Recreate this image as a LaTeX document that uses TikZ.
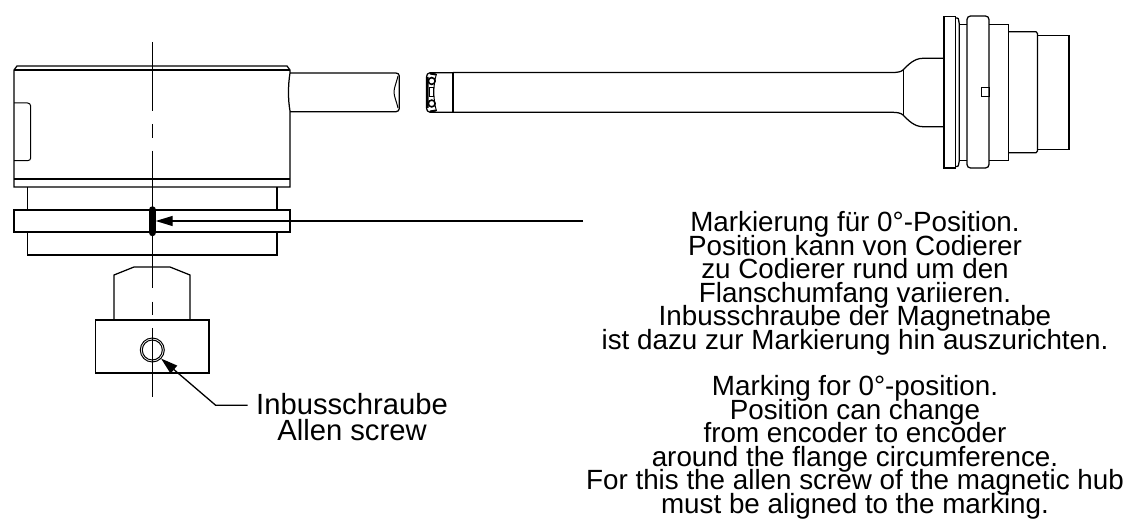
\documentclass[tikz,border=0pt]{standalone}
\usepackage{fontspec}
\setmainfont{Liberation Sans}
\usetikzlibrary{arrows.meta}
\normallineskiplimit=-100pt\relax
\lineskiplimit=-100pt\relax
\tikzset{
  part/.style={line width=1.25pt,draw=black,line join=miter},
  thinpart/.style={line width=1pt,draw=black},
  axis/.style={line width=1.4pt,draw=black},
  mark0/.style={line width=7.5pt,line cap=round,draw=black},
  lead/.style={line width=1.3pt,draw=black,-{Triangle[length=17pt,width=10pt]}},
  caption/.style={inner sep=0pt,outer sep=0pt,align=center,anchor=north,font=\fontsize{27.8}{23.5}\selectfont},
  callout/.style={inner sep=0pt,outer sep=0pt,align=center,anchor=north,font=\fontsize{29.2}{26}\selectfont}
}
\begin{document}
\begin{tikzpicture}[x=1pt,y=-1pt]
\useasboundingbox (0,0) rectangle (1128,529);
% encoder body
\draw[part] (14,70) -- (17,66) -- (287,66) -- (290,70) -- (290,73) .. controls (288,85) and (288,100) .. (290,111) -- (290,187) -- (14,187) -- cycle;
\draw[part] (14,70) -- (290,70);
\draw[part] (14,179) -- (290,179);
\draw[thinpart] (14,103) -- (27.5,103) to[out=0,in=90] (30.7,106) -- (30.7,158) to[out=-90,in=0] (27.5,160.7) -- (14,160.7);
\draw[part] (27.5,187) -- (27.5,210) (277,187) -- (277,210);
\draw[part] (14,210) rectangle (290,232);
\draw[part] (27.5,232) -- (27.5,255) -- (277,255) -- (277,232);
% hub
\draw[part] (114,320) -- (114,275) -- (134,267) -- (170,267) -- (190,275) -- (190,320);
\draw[part] (95.3,320) rectangle (209,373);
\draw[thinpart] (152.3,350) circle (12);
\draw[thinpart] (152.3,350) circle (10);
% centre line
\draw[axis] (152.3,42) -- (152.3,110.7);
\draw[axis] (152.3,124) -- (152.3,138);
\draw[axis] (152.3,150.7) -- (152.3,288);
\draw[axis] (152.3,301.7) -- (152.3,315);
\draw[axis] (152.3,328) -- (152.3,397);
% cable, encoder side
\draw[part] (290,73) -- (396,73) to[out=0,in=90] (399.3,76) -- (399.3,108.5) to[out=-90,in=0] (396,111.7) -- (290,111.7);
\draw[thinpart] (398,76) .. controls (396,84) and (394,88) .. (394,92) .. controls (394,96) and (396,100) .. (398,108);
% cable, connector side
\draw[part] (453,72.7) -- (430,72.7) to[out=180,in=90] (426.5,77) -- (426.5,108) to[out=-90,in=180] (430,112.3) -- (453,112.3);
\draw[thinpart] (436.5,74) .. controls (433,84) and (433,100) .. (436.5,111);
\draw[line width=2pt] (430,73.5) -- (436,74.5) (430,111.5) -- (436,110.5) (427.5,77) -- (427.5,108);
\draw[line width=1.6pt,fill=white] (431.7,81) circle (3.4) (431.7,103.5) circle (3.4);
\draw[thinpart] (429,88) rectangle (433,97);
% sleeve and flare
\draw[part] (453,72.5) -- (453,112.3);
\draw[part] (453,72.5) -- (892,72.5) .. controls (897,72.5) and (901,72) .. (903,70) .. controls (908,65) and (914,58.3) .. (923,58.3) -- (944,58.3);
\draw[part] (453,112.3) -- (892,112.3) .. controls (897,112.3) and (901,113) .. (903,115) .. controls (908,120) and (914,126.7) .. (923,126.7) -- (944,126.7);
\draw[thinpart] (903,70) -- (903,115);
% connector
\draw[part] (944,16.7) rectangle (955.7,168);
\draw[part] (955.7,18) -- (957,18) to[out=0,in=120] (959.3,24) -- (959.3,160.7) to[out=-120,in=0] (957,166.5) -- (955.7,166.5);
\draw[part] (959.3,24.3) -- (967,24.3) (959.3,160.7) -- (967,160.7);
\draw[part,rounded corners=3.5pt] (967,16) rectangle (989,168);
\draw[thinpart] (981.7,88) rectangle (989,96.7);
\draw[part] (989,24.3) -- (1008.5,24.3) -- (1008.5,160.7) -- (989,160.7);
\draw[part] (1008.5,31.7) -- (1036,31.7) -- (1037.5,33.5) -- (1037.5,151) -- (1036,152.8) -- (1008.5,152.8);
\draw[part] (1038,35.3) -- (1069,35.3) -- (1069,149.3) -- (1038,149.3);
% marking
\draw[mark0] (152.3,210) coordinate (m0) -- (152.3,232.5);
% labels
\node[caption] (de) at (855,211.4) {Markierung für 0°-Position.\\Position kann von Codierer\\zu Codierer rund um den\\Flanschumfang variieren.\\Inbusschraube der Magnetnabe\\ist dazu zur Markierung hin auszurichten.};
\node[caption] (en) at (855,375.7) {Marking for 0°-position.\\Position can change\\from encoder to encoder\\around the flange circumference.\\For this the allen screw of the magnetic hub\\must be aligned to the marking.};
\node[callout] (screwlabel) at (352,393.7) {Inbusschraube\\Allen screw};
% leaders
\coordinate (markstart) at (583,221);
\coordinate (marktip) at (155.7,221);
\draw[lead] (markstart) -- (marktip);
\coordinate (bend) at (215.7,405.3);
\coordinate (screwend) at (247.7,405.3);
\coordinate (screwtip) at (161,358.5);
\draw[lead] (screwend) -- (bend) -- (screwtip);
\end{tikzpicture}
\end{document}
